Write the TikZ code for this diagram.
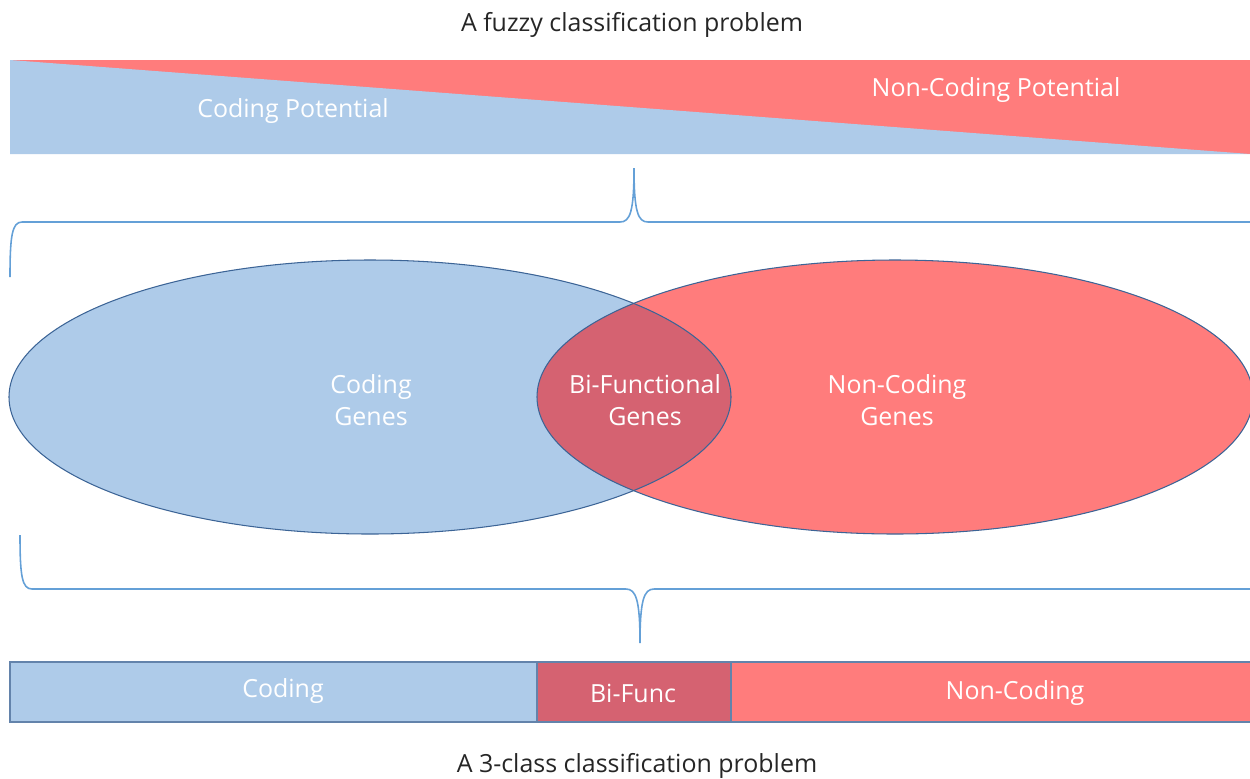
\documentclass[tikz,border=0pt]{standalone}
\usepackage{fontspec}
\setmainfont{Open Sans}
\usetikzlibrary{positioning}
\definecolor{codeblue}{RGB}{174,203,233}
\definecolor{noncodered}{RGB}{255,124,124}
\definecolor{bifuncred}{RGB}{213,98,113}
\definecolor{rimblue}{RGB}{60,100,150}
\definecolor{braceblue}{RGB}{100,160,215}
\tikzset{
    headline/.style = {text=black!85,
                    inner sep=0pt,
                    font=\fontsize{14.2}{17}\selectfont},
    intext/.style = {text=white,
                    align=center,
                    inner sep=0pt,
                    font=\fontsize{14.2}{18}\selectfont},
    brace/.style =  {draw=braceblue,
                    line width=0.9pt},
    rim/.style =    {draw=rimblue,
                    line width=0.6pt},
    barpart/.style = {draw=rimblue!80,
                    line width=0.6pt}
}

\begin{document}
\begin{tikzpicture}[x=0.02cm,y=-0.02cm]
                \useasboundingbox (0,0) rectangle (1250,778);
                % top bar
                \fill[noncodered] (10,60) rectangle (1250,154);
                \fill[codeblue] (10,60) -- (1250,154) -- (10,154) -- cycle;
                \node[headline]     (fuzzy) at (632,25)     {A fuzzy classification problem};
                \node[intext]       (cpot)  at (293,111)    {Coding Potential};
                \node[intext]       (ncpot) at (996,90)     {Non-Coding Potential};
                % braces
                \draw[brace] (10,277) .. controls (10,236) and (12,222) .. (22,222) -- (620,222)
                             .. controls (630,222) and (634,212) .. (634,168)
                             .. controls (634,212) and (638,222) .. (648,222) -- (1252,222);
                \draw[brace] (20,535) .. controls (20,576) and (22,589) .. (32,589) -- (626,589)
                             .. controls (636,589) and (640,600) .. (640,643)
                             .. controls (640,600) and (644,589) .. (654,589) -- (1252,589);
                % venn
                \fill[codeblue] (370,397) ellipse [x radius=361, y radius=137];
                \fill[noncodered] (895,397) ellipse [x radius=358, y radius=137];
                \begin{scope}
                    \clip (370,397) ellipse [x radius=361, y radius=137];
                    \fill[bifuncred] (895,397) ellipse [x radius=358, y radius=137];
                \end{scope}
                \draw[rim] (370,397) ellipse [x radius=361, y radius=137];
                \draw[rim] (895,397) ellipse [x radius=358, y radius=137];
                \node[intext]       (cgen)  at (371,400)    {Coding\\Genes};
                \node[intext]       (bgen)  at (645,400)    {Bi-Functional\\Genes};
                \node[intext]       (ngen)  at (897,400)    {Non-Coding\\Genes};
                % bottom bar
                \filldraw[barpart,fill=codeblue] (10,662) rectangle (537,722);
                \filldraw[barpart,fill=bifuncred] (537,662) rectangle (731,722);
                \filldraw[barpart,fill=noncodered] (731,662) rectangle (1252,722);
                \node[intext]       (cbar)  at (283,691)    {Coding};
                \node[intext]       (bbar)  at (633,693)    {Bi-Func};
                \node[intext]       (nbar)  at (1015,693)   {Non-Coding};
                \node[headline]     (three) at (637,766)    {A 3-class classification problem};
\end{tikzpicture}
\end{document}
